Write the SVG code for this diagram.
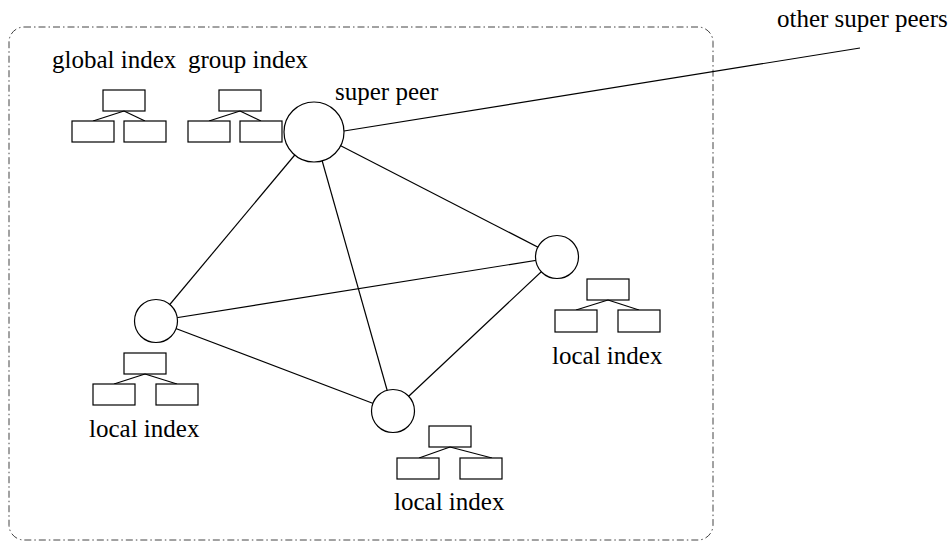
<svg xmlns="http://www.w3.org/2000/svg" width="951" height="542" viewBox="0 0 951 542">
<style>
text{font-family:'Liberation Serif','Times New Roman',Times,serif;font-size:25px;fill:#000}
.n{fill:#fff;stroke:#000;stroke-width:1.2}
.e{stroke:#000;stroke-width:1.2;fill:none}
.r{fill:#fff;stroke:#000;stroke-width:1.2}
.b{fill:none;stroke:#444;stroke-width:1;stroke-dasharray:7 3 1.5 3}
</style>
<rect width="951" height="542" fill="#fff"/>
<rect id="group-boundary" class="b" x="9" y="27" width="704" height="513" rx="15" ry="15"/>
<g id="connectors">
<line class="e" x1="314" y1="132" x2="156" y2="321"/>
<line class="e" x1="314" y1="132" x2="557" y2="257"/>
<line class="e" x1="314" y1="132" x2="393" y2="411"/>
<line class="e" x1="156" y1="321" x2="557" y2="257"/>
<line class="e" x1="156" y1="321" x2="393" y2="411"/>
<line class="e" x1="393" y1="411" x2="557" y2="257"/>
<line class="e" x1="344" y1="131" x2="860" y2="48"/>
</g>
<g id="super-peer">
<circle class="n" cx="314" cy="132" r="30"/>
<text x="335" y="100" font-family="Liberation Serif, serif">super peer</text>
</g>
<g id="peer-left"><circle class="n" cx="156" cy="321" r="21.5"/></g>
<g id="peer-right"><circle class="n" cx="557" cy="257" r="21.5"/></g>
<g id="peer-bottom"><circle class="n" cx="393" cy="411" r="21.5"/></g>
<g id="other-super-peers"><text x="777" y="27" font-family="Liberation Serif, serif">other super peers</text></g>
<g id="global-index">
<text x="52" y="68" font-family="Liberation Serif, serif">global index</text>
<rect class="r" x="103" y="90" width="42" height="21"/>
<line class="e" x1="124" y1="111" x2="93" y2="121"/>
<line class="e" x1="124" y1="111" x2="145" y2="121"/>
<rect class="r" x="72" y="121" width="42" height="21"/>
<rect class="r" x="124" y="121" width="42" height="21"/>
</g>
<g id="group-index">
<text x="188" y="68" font-family="Liberation Serif, serif">group index</text>
<rect class="r" x="219" y="90" width="42" height="21"/>
<line class="e" x1="240" y1="111" x2="209" y2="121"/>
<line class="e" x1="240" y1="111" x2="261" y2="121"/>
<rect class="r" x="188" y="121" width="42" height="21"/>
<rect class="r" x="240" y="121" width="42" height="21"/>
</g>
<g id="local-index-right">
<rect class="r" x="587" y="279" width="42" height="21"/>
<line class="e" x1="608" y1="300" x2="576" y2="310"/>
<line class="e" x1="608" y1="300" x2="639" y2="310"/>
<rect class="r" x="555" y="310" width="42" height="22"/>
<rect class="r" x="618" y="310" width="42" height="22"/>
<text x="552" y="364" font-family="Liberation Serif, serif">local index</text>
</g>
<g id="local-index-left">
<rect class="r" x="124" y="353" width="42" height="21"/>
<line class="e" x1="145" y1="374" x2="114" y2="384"/>
<line class="e" x1="145" y1="374" x2="177" y2="384"/>
<rect class="r" x="93" y="384" width="42" height="21"/>
<rect class="r" x="156" y="384" width="42" height="21"/>
<text x="89" y="437" font-family="Liberation Serif, serif">local index</text>
</g>
<g id="local-index-bottom">
<rect class="r" x="429" y="426" width="42" height="21"/>
<line class="e" x1="450" y1="447" x2="419" y2="458"/>
<line class="e" x1="450" y1="447" x2="492" y2="458"/>
<rect class="r" x="397" y="458" width="42" height="21"/>
<rect class="r" x="460" y="458" width="42" height="21"/>
<text x="394" y="510" font-family="Liberation Serif, serif">local index</text>
</g>
</svg>
